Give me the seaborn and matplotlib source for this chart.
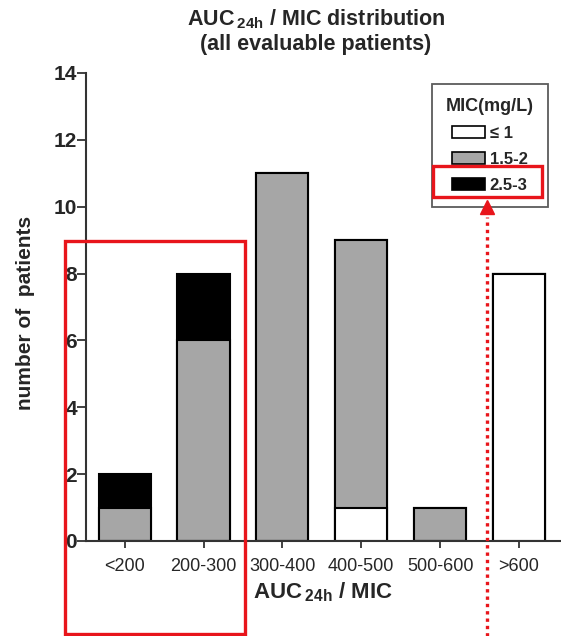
import matplotlib
matplotlib.use("Agg")
import matplotlib.pyplot as plt
import seaborn as sns
import pandas as pd
from matplotlib.patches import Patch, Rectangle
from matplotlib.lines import Line2D

# --- DATA ---
categories = ["<200", "200-300", "300-400", "400-500", "500-600", ">600"]
mic_le1 = [0, 0, 0, 1, 0, 8]
mic_15_2 = [1, 6, 11, 8, 1, 0]
mic_25_3 = [1, 2, 0, 0, 0, 0]
legend_labels = ["\u2264 1", "1.5-2", "2.5-3"]
legend_colors = ["white", "#a6a6a6", "black"]
y_ticks = [0, 2, 4, 6, 8, 10, 12, 14]

sns.set_theme(style="ticks")
plt.rcParams["font.family"] = ["Liberation Sans", "DejaVu Sans"]
plt.rcParams["mathtext.fontset"] = "custom"
plt.rcParams["mathtext.rm"] = "Liberation Sans:bold"
plt.rcParams["mathtext.it"] = "Liberation Sans:bold"
plt.rcParams["mathtext.bf"] = "Liberation Sans:bold"

df = pd.DataFrame({"category": categories, "le1": mic_le1,
                   "mid": mic_15_2, "high": mic_25_3})
df["cum_mid"] = df["le1"] + df["mid"]
df["cum_top"] = df["cum_mid"] + df["high"]

fig = plt.figure(figsize=(5.61, 6.36), dpi=100)
ax = fig.add_axes([86 / 561, 95 / 636, 474 / 561, 468 / 636])

# stacked bars: draw totals first, then lower layers on top
bar_kw = dict(order=categories, edgecolor="black", linewidth=1.5,
              width=0.66, errorbar=None, saturation=1, ax=ax)
sns.barplot(data=df, x="category", y="cum_top", color=legend_colors[2], **bar_kw)
sns.barplot(data=df, x="category", y="cum_mid", color=legend_colors[1], **bar_kw)
sns.barplot(data=df, x="category", y="le1", color=legend_colors[0], **bar_kw)

ax.set_xlim(-0.49, 5.52)
ax.set_ylim(0, 14)
ax.set_yticks(y_ticks)
ax.set_yticklabels([str(t) for t in y_ticks], fontsize=15, fontweight="bold")
ax.set_xticks(range(len(categories)))
ax.set_xticklabels(categories, fontsize=13)
ax.tick_params(axis="both", width=1.3, color="#333333")
ax.tick_params(axis="y", length=6.5, pad=0)
ax.tick_params(axis="x", length=5, pad=7)
for side in ["left", "bottom"]:
    ax.spines[side].set_linewidth(1.5)
    ax.spines[side].set_color("#333333")
sns.despine(ax=ax)

ax.set_xlabel("AUC$\\,_{24h}$ / MIC", fontsize=16, fontweight="bold", labelpad=4)
ax.set_ylabel("number of  patients", fontsize=15, fontweight="bold")
ax.yaxis.set_label_coords(35 / 561, (636 - 313) / 636, transform=fig.transFigure)

fig.text(316 / 561, 1 - 7 / 636,
         "AUC$\\,_{24h}$ / MIC distribution\n(all evaluable patients)",
         ha="center", va="top", fontsize=15.5, fontweight="bold",
         multialignment="center", linespacing=1.2)

handles = [Patch(facecolor=c, edgecolor="black", linewidth=1.2) for c in legend_colors]
leg = ax.legend(handles, legend_labels, title="MIC(mg/L)",
                loc="upper right", bbox_to_anchor=(548 / 561, 1 - 84 / 636),
                bbox_transform=fig.transFigure, frameon=True, fancybox=False,
                handlelength=2.0, handleheight=0.7, handletextpad=0.25,
                labelspacing=0.65, borderpad=0.85, borderaxespad=0,
                prop={"weight": "bold", "size": 12},
                title_fontproperties={"weight": "bold", "size": 13})
leg.get_frame().set_edgecolor("#333333")
leg.get_frame().set_linewidth(1.3)

# red highlight annotations
red = "#e8151b"
fig.add_artist(Rectangle((65 / 561, 2 / 636), 180 / 561, 393 / 636,
                         transform=fig.transFigure, fill=False,
                         edgecolor=red, linewidth=2.4, clip_on=False))
fig.add_artist(Rectangle((433 / 561, 1 - 197 / 636), 109 / 561, 31 / 636,
                         transform=fig.transFigure, fill=False,
                         edgecolor=red, linewidth=2.4, clip_on=False))
fig.add_artist(Line2D([487 / 561, 487 / 561], [0, 1 - 217 / 636],
                      transform=fig.transFigure, color=red, linewidth=2.4,
                      linestyle=(0, (1, 1.2))))
fig.add_artist(Line2D([487 / 561], [1 - 207 / 636], transform=fig.transFigure,
                      marker="^", markersize=10, color=red, linestyle="none"))

fig.savefig("out.png", dpi=100)
